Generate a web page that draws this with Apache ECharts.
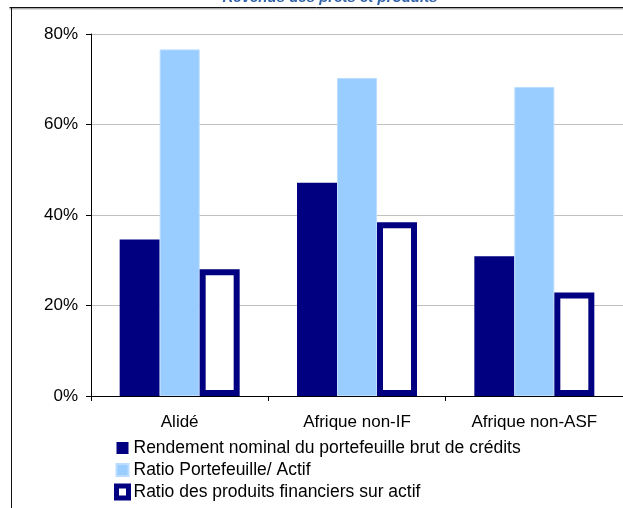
<!DOCTYPE html>
<html>
<head>
<meta charset="utf-8">
<script src="https://cdn.jsdelivr.net/npm/echarts@6/dist/echarts.min.js"></script>
<style>
html,body{margin:0;padding:0;background:#fff;}
#chart{width:623px;height:508px;}
</style>
</head>
<body>
<div id="chart"></div>
<script>
const categories = ['Alidé', 'Afrique non-IF', 'Afrique non-ASF'];
const seriesNames = [
  'Rendement nominal du portefeuille brut de crédits',
  'Ratio Portefeuille/ Actif',
  'Ratio des produits financiers sur actif'
];
const rendement = [34.6, 47.1, 30.9];
const portefeuilleActif = [76.6, 70.3, 68.3];
const produitsActif = [28.0, 38.4, 22.9];
const yTicks = [0, 20, 40, 60, 80];
const titleText = 'Revenus des prêts et produits';

const FONT = '"Liberation Sans", Arial, sans-serif';
const chart = echarts.init(document.getElementById('chart'), null, {renderer: 'canvas'});
chart.setOption({
  animation: false,
  backgroundColor: '#ffffff',
  title: {
    text: titleText,
    left: 330, textAlign: 'center',
    top: -10, padding: 0,
    textStyle: {fontFamily: FONT, fontSize: 15, fontWeight: 'bold', fontStyle: 'italic', color: '#2F62A8'}
  },
  graphic: [
    {type: 'line', shape: {x1: 9.5, y1: 7.5, x2: 623, y2: 7.5}, style: {stroke: '#111', lineWidth: 1}, silent: true},
    {type: 'line', shape: {x1: 9.5, y1: 8.8, x2: 623, y2: 8.8}, style: {stroke: '#888', lineWidth: 1}, silent: true},
    {type: 'line', shape: {x1: 11.5, y1: 7.5, x2: 11.5, y2: 508}, style: {stroke: '#111', lineWidth: 1}, silent: true}
  ],
  grid: {left: 91, top: 34, width: 534, height: 362, containLabel: false},
  legend: {
    orient: 'vertical',
    left: 114, top: 439,
    width: 500, height: 120,
    padding: 0,
    itemWidth: 12, itemHeight: 12,
    itemGap: 4,
    icon: 'rect',
    textStyle: {fontFamily: FONT, fontSize: 17.5, color: '#000'},
    data: [
      {name: seriesNames[0]},
      {name: seriesNames[1]},
      {name: seriesNames[2], itemStyle: {color: '#ffffff', borderColor: '#000080', borderWidth: 5}}
    ]
  },
  xAxis: {
    type: 'category',
    data: categories,
    axisLine: {lineStyle: {color: '#000', width: 1}},
    axisTick: {show: true, length: 5, lineStyle: {color: '#000'}},
    axisLabel: {fontFamily: FONT, fontSize: 17, color: '#000', margin: 18},
    splitLine: {show: false}
  },
  yAxis: {
    type: 'value',
    min: yTicks[0], max: yTicks[yTicks.length - 1], interval: 20,
    axisLine: {show: true, lineStyle: {color: '#000', width: 1}},
    axisTick: {show: true, length: 5, lineStyle: {color: '#000'}},
    axisLabel: {fontFamily: FONT, fontSize: 17, color: '#000', margin: 13, formatter: v => v + '%'},
    splitLine: {show: true, lineStyle: {color: '#C0C0C0', width: 1}}
  },
  series: [
    {
      name: seriesNames[0], type: 'bar', data: rendement,
      barWidth: 40, barGap: '0%',
      itemStyle: {color: '#000080'}
    },
    {
      name: seriesNames[1], type: 'bar', data: portefeuilleActif,
      barWidth: 40, barGap: '0%',
      itemStyle: {color: '#99CCFF', borderColor: '#BBDDFF', borderWidth: 1}
    },
    {
      name: seriesNames[2], type: 'bar', data: produitsActif,
      barWidth: 40, barGap: '0%',
      itemStyle: {color: '#ffffff', borderColor: '#000080', borderWidth: 6}
    }
  ]
});
</script>
</body>
</html>
